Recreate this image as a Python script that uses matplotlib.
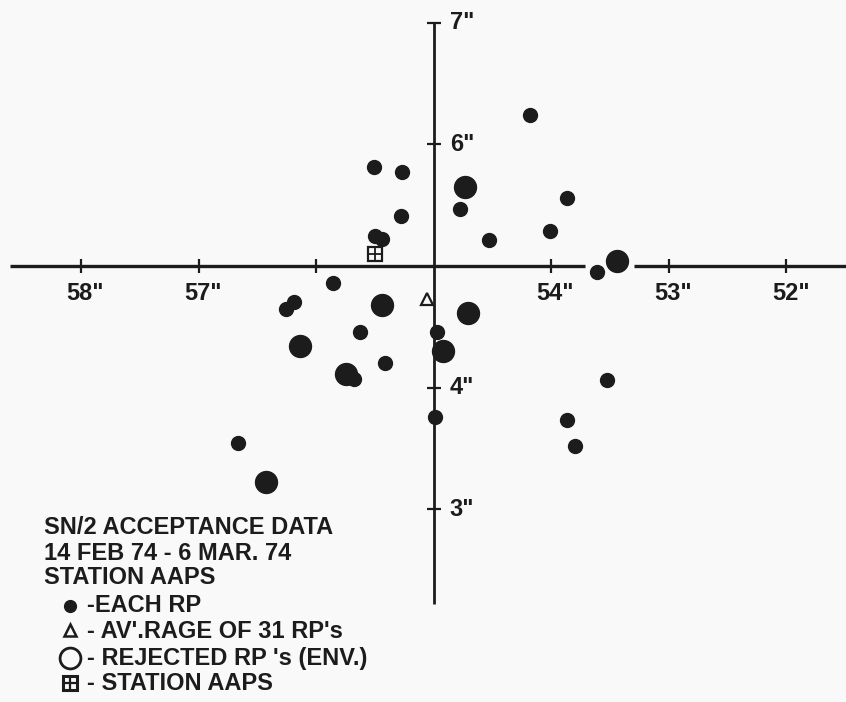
import matplotlib.pyplot as plt

# positions in inches (x axis runs 58" -> 52", left to right)
rp_x = [54.18, 55.51, 55.27, 53.87, 54.78, 55.28, 54.01, 55.50, 55.44, 54.53,
        53.61, 55.86, 56.19, 56.26, 55.63, 54.97, 55.41, 55.68, 53.53, 54.99,
        53.87, 53.80, 56.66]
rp_y = [6.24, 5.81, 5.77, 5.56, 5.47, 5.41, 5.29, 5.25, 5.22, 5.21,
        4.95, 4.86, 4.70, 4.65, 4.46, 4.46, 4.20, 4.07, 4.06, 3.76,
        3.73, 3.52, 3.54]

big_x = [54.73, 53.44, 55.44, 54.71, 56.14, 54.92, 55.75, 56.43]
big_y = [5.65, 5.04, 4.68, 4.61, 4.34, 4.30, 4.11, 3.22]

avg_x, avg_y = 55.06, 4.73
station_x, station_y = 55.50, 5.10

x_ticks = [58, 57, 56, 54, 53, 52]
x_labels = ['58"', '57"', '', '54"', '53"', '52"']
y_ticks = [7, 6, 4, 3]
y_labels = ['7"', '6"', '4"', '3"']

legend_title = ['SN/2 ACCEPTANCE DATA', '14 FEB 74 - 6 MAR. 74', 'STATION AAPS']
legend_items = ['-EACH RP', "- AV'.RAGE OF 31 RP's", "- REJECTED RP 's (ENV.)", '- STATION AAPS']

ink = '#1c1c1c'
font = ['Liberation Sans', 'DejaVu Sans']

fig = plt.figure(figsize=(8.46, 7.02), dpi=100, facecolor='#f9f9f9')
ax = fig.add_axes([0, 0, 1, 1])
ax.set_facecolor('#f9f9f9')
ax.axis('off')
ax.set_xlim(58.688, 51.494)
ax.set_ylim(1.414, 7.1875)

# cross-shaped axes through (55", 5")
ax.plot([58.60, 53.71], [5, 5], color=ink, lw=2.4, solid_capstyle='butt')
ax.plot([53.30, 51.40], [5, 5], color=ink, lw=2.4, solid_capstyle='butt')
ax.plot([55, 55], [2.22, 7.0], color=ink, lw=2.0, solid_capstyle='butt')
ax.plot(x_ticks, [5] * len(x_ticks), ls='none', marker='|', ms=9.5, mew=1.6, color=ink)
ax.plot([55] * len(y_ticks), y_ticks, ls='none', marker='_', ms=9.5, mew=1.6, color=ink)

for t, lab in zip(x_ticks, x_labels):
    ax.annotate(lab, (t, 5), xytext=(3, -19.5), textcoords='offset points',
                ha='center', va='center', fontsize=17, fontweight='bold',
                family=font, color=ink)
for t, lab in zip(y_ticks, y_labels):
    ax.annotate(lab, (55, t), xytext=(11.5, 0), textcoords='offset points',
                ha='left', va='center', fontsize=17, fontweight='bold',
                family=font, color=ink)

# data points
ax.plot(rp_x, rp_y, ls='none', marker='o', ms=10, color=ink, mec=ink)
ax.plot(big_x, big_y, ls='none', marker='o', ms=15.8, color=ink, mec=ink)
ax.plot(avg_x, avg_y, marker='^', ms=9, mfc='none', mec=ink, mew=1.6)
ax.plot(station_x, station_y, marker='s', ms=10, mfc='none', mec=ink, mew=1.6)
ax.plot(station_x, station_y, marker='+', ms=10, mec=ink, mew=1.3)

# legend block (figure coordinates)
W, H = 846, 702
for i, line in enumerate(legend_title):
    fig.text(44 / W, 1 - (528 + 25 * i) / H, line, ha='left', va='center',
             fontsize=17, fontweight='bold', family=font, color=ink)
item_y = [606, 631, 658, 683]
for yy, line in zip(item_y, legend_items):
    fig.text(87 / W, 1 - yy / H, line, ha='left', va='center',
             fontsize=17, fontweight='bold', family=font, color=ink)

tf = fig.transFigure
ax.plot(70 / W, 1 - 606 / H, marker='o', ms=8.5, color=ink, transform=tf, clip_on=False)
ax.plot(70 / W, 1 - 630 / H, marker='^', ms=9, mfc='none', mec=ink, mew=1.8, transform=tf, clip_on=False)
ax.plot(70 / W, 1 - 658 / H, marker='o', ms=15, mfc='none', mec=ink, mew=2.0, transform=tf, clip_on=False)
ax.plot(70 / W, 1 - 683 / H, marker='s', ms=9.5, mfc='none', mec=ink, mew=2.2, transform=tf, clip_on=False)
ax.plot(70 / W, 1 - 683 / H, marker='+', ms=9.5, mec=ink, mew=1.6, transform=tf, clip_on=False)

fig.savefig('out.png', dpi=100, facecolor=fig.get_facecolor())
